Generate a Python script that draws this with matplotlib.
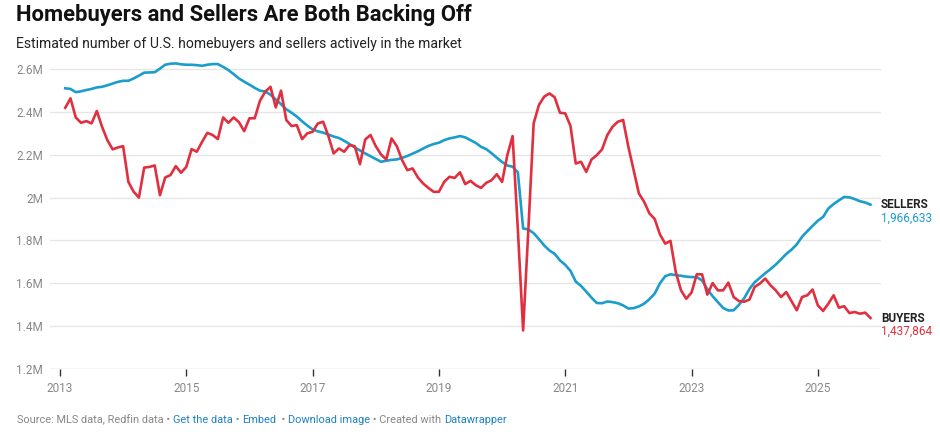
import pandas as pd
import matplotlib
matplotlib.use("Agg")
import matplotlib.pyplot as plt

plt.rcParams["font.family"] = ["Roboto", "DejaVu Sans"]

# -----------------------------
# Data (millions, monthly Feb 2013 - Nov 2025)
# -----------------------------
months = pd.date_range("2013-02-01", periods=154, freq="MS")

buyers = [
    2.419, 2.463, 2.374, 2.349, 2.357, 2.346, 2.404, 2.330, 2.268, 2.225, 2.234, 2.240,
    2.073, 2.027, 2.000, 2.140, 2.143, 2.150, 2.011, 2.094, 2.105, 2.147, 2.116, 2.143,
    2.226, 2.214, 2.260, 2.302, 2.292, 2.273, 2.374, 2.349, 2.374, 2.352, 2.310, 2.370,
    2.370, 2.452,
    2.494, 2.517, 2.421, 2.499, 2.362, 2.334, 2.338, 2.273, 2.300, 2.307, 2.346, 2.354,
    2.287, 2.206, 2.229, 2.214, 2.245, 2.240, 2.156, 2.271, 2.292, 2.240, 2.201, 2.178,
    2.276, 2.240, 2.175, 2.128, 2.136, 2.094, 2.066, 2.045, 2.027, 2.027, 2.073, 2.097,
    2.092, 2.118,
    2.063, 2.078, 2.058, 2.045, 2.069, 2.081, 2.109, 2.073, 2.198, 2.287, 1.850, 1.380,
    1.853, 2.346, 2.432, 2.471, 2.486, 2.468, 2.396, 2.393, 2.334, 2.159, 2.167, 2.120,
    2.178, 2.198, 2.225, 2.292, 2.331, 2.354, 2.362, 2.237, 2.128, 2.019, 1.980, 1.926,
    1.900, 1.828,
    1.785, 1.798, 1.653, 1.567, 1.528, 1.557, 1.642, 1.642, 1.547, 1.601, 1.567, 1.567,
    1.603, 1.536, 1.517, 1.514, 1.524, 1.583, 1.599, 1.622, 1.591, 1.567, 1.536, 1.559,
    1.516, 1.474, 1.536, 1.544, 1.571, 1.497, 1.471, 1.505, 1.544, 1.486, 1.493, 1.461,
    1.466, 1.458, 1.463, 1.438,
]

sellers = [
    2.510, 2.507, 2.492, 2.496, 2.502, 2.507, 2.514, 2.517, 2.524, 2.532, 2.540, 2.545,
    2.545, 2.556, 2.569, 2.583, 2.584, 2.585, 2.602, 2.620, 2.625, 2.626, 2.622, 2.620,
    2.620, 2.618, 2.615, 2.620, 2.623, 2.623, 2.610, 2.595, 2.576, 2.556, 2.541, 2.527,
    2.512, 2.499,
    2.495, 2.480, 2.458, 2.436, 2.412, 2.396, 2.378, 2.356, 2.336, 2.318, 2.309, 2.303,
    2.294, 2.285, 2.278, 2.265, 2.250, 2.234, 2.220, 2.206, 2.193, 2.180, 2.167, 2.172,
    2.176, 2.178, 2.185, 2.194, 2.205, 2.216, 2.229, 2.241, 2.250, 2.256, 2.268, 2.276,
    2.281, 2.287,
    2.281, 2.268, 2.255, 2.237, 2.226, 2.207, 2.186, 2.166, 2.150, 2.144, 2.118, 1.856,
    1.851, 1.834, 1.806, 1.777, 1.753, 1.737, 1.707, 1.686, 1.658, 1.608, 1.588, 1.561,
    1.533, 1.508, 1.507, 1.515, 1.512, 1.507, 1.497, 1.482, 1.484, 1.492, 1.505, 1.526,
    1.552, 1.600,
    1.633, 1.642, 1.638, 1.635, 1.631, 1.629, 1.629, 1.613, 1.572, 1.540, 1.512, 1.485,
    1.473, 1.474, 1.499, 1.530, 1.573, 1.605, 1.626, 1.647, 1.666, 1.687, 1.712, 1.737,
    1.757, 1.782, 1.817, 1.843, 1.868, 1.892, 1.910, 1.949, 1.970, 1.987, 2.003, 2.001,
    1.993, 1.983, 1.977, 1.967,
]

y_ticks = [1.2, 1.4, 1.6, 1.8, 2.0, 2.2, 2.4, 2.6]
y_labels = ["1.2M", "1.4M", "1.6M", "1.8M", "2M", "2.2M", "2.4M", "2.6M"]
x_ticks = [2013, 2015, 2017, 2019, 2021, 2023, 2025]

sellers_last = "1,966,633"
buyers_last = "1,437,864"

BLUE = "#1b9dcc"
RED = "#e0303f"
GRAY = "#888888"
LINK = "#1d81c4"

# Dezimaljahre fuer die x-Achse
x = [d.year + (d.month - 1) / 12 for d in months]

# -----------------------------
# Plot
# -----------------------------
fig = plt.figure(figsize=(9.4, 4.37), dpi=100)
ax = fig.add_axes([50 / 940, 1 - 369 / 437, 831 / 940, (369 - 58.3) / 437])

for yv in y_ticks[1:]:
    ax.axhline(yv, color="#e6e6e6", lw=1.0, zorder=0)
ax.axhline(1.2, color="#d0d0d0", lw=1.0, zorder=0)

ax.plot(x, sellers, color=BLUE, lw=1.9, solid_joinstyle="round", zorder=3)
ax.plot(x, buyers, color=RED, lw=1.9, solid_joinstyle="round", zorder=4)

ax.set_xlim(2012.842, 2026.0)
ax.set_ylim(1.2, 2.65)

for s in ax.spines.values():
    s.set_visible(False)

ax.set_yticks(y_ticks)
ax.set_yticklabels(y_labels)
ax.tick_params(axis="y", length=0, pad=5, labelsize=8.5, labelcolor=GRAY)
ax.set_xticks(x_ticks)
ax.set_xticklabels([str(t) for t in x_ticks])
ax.tick_params(axis="x", length=5, width=1, color="#333333", pad=4,
               labelsize=8.5, labelcolor=GRAY)

# Labels am Linienende
fig.text(881 / 940, 1 - 205 / 437, "SELLERS", fontsize=8.5, fontweight="bold",
         color="#222222", va="center", ha="left")
fig.text(881 / 940, 1 - 218.5 / 437, sellers_last, fontsize=8.5, color=BLUE,
         va="center", ha="left")
fig.text(881 / 940, 1 - 318 / 437, "BUYERS", fontsize=8.5, fontweight="bold",
         color="#222222", va="center", ha="left")
fig.text(881 / 940, 1 - 331.5 / 437, buyers_last, fontsize=8.5, color=RED,
         va="center", ha="left")

# Titel
fig.text(16 / 940, 1 - 15 / 437, "Homebuyers and Sellers Are Both Backing Off",
         fontsize=15.8, fontweight="bold", color="#111111", va="center", ha="left")
fig.text(16 / 940, 1 - 44 / 437,
         "Estimated number of U.S. homebuyers and sellers actively in the market",
         fontsize=10.1, color="#222222", va="center", ha="left")

# Footer, Stueck fuer Stueck
parts = [
    ("Source: MLS data, Redfin data \u2022 ", GRAY),
    ("Get the data", LINK),
    (" \u2022 ", GRAY),
    ("Embed", LINK),
    ("  \u2022 ", GRAY),
    ("Download image", LINK),
    (" \u2022 Created with ", GRAY),
    ("Datawrapper", LINK),
]
renderer = fig.canvas.get_renderer()
xpos = 17
for txt, col in parts:
    t = fig.text(xpos / 940, 1 - 420 / 437, txt, fontsize=7.9, color=col,
                 va="center", ha="left")
    bb = t.get_window_extent(renderer=renderer)
    xpos += bb.width

fig.savefig("out.png", dpi=100)
